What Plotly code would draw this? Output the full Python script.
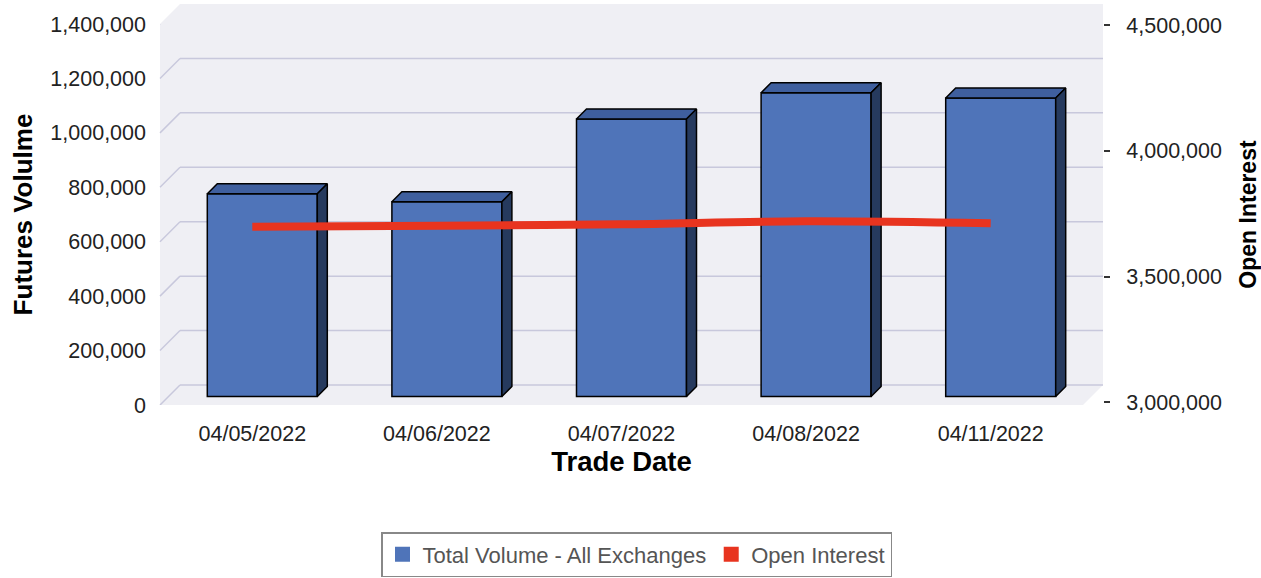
import plotly.graph_objects as go

# ---------------- data ----------------
dates = ["04/05/2022", "04/06/2022", "04/07/2022", "04/08/2022", "04/11/2022"]
volume = [745000, 716000, 1020000, 1116000, 1097000]
open_interest = [3698000, 3702000, 3708000, 3720000, 3712000]
vol_ticks = [0, 200000, 400000, 600000, 800000, 1000000, 1200000, 1400000]
oi_ticks = [3000000, 3500000, 4000000, 4500000]

# ---------------- layout geometry (pixels) ----------------
W, H = 1261, 578
ML, MR, MT, MB = 160, 158, 24, 172.5
PW = W - ML - MR
PH = H - MT - MB
FLOOR_W = 923
WALL_DEPTH = 20
BAR_DEPTH = 10
Y_MAX = 1400000
px_x = FLOOR_W / len(dates)
px_y = PH / Y_MAX
bar_dx = BAR_DEPTH / px_x
bar_dy = BAR_DEPTH / px_y
bar_shift = 10 / px_x
bar_base = 8.5 / px_y
bar_w = 110 / px_x

FONT = "Liberation Sans, Arial, sans-serif"
WALL = "#efeff4"
GRID = "#c8c8dc"
BLUE = "#4f74b9"
BLUE_TOP = "#3f5f9e"
BLUE_SIDE = "#263a5e"
RED = "#e8341f"

fig = go.Figure()

xs = [i + bar_shift for i in range(len(dates))]
fig.add_trace(go.Bar(
    x=xs, y=volume, base=bar_base, width=bar_w,
    marker=dict(color=BLUE, line=dict(color="black", width=1.5)),
    name="Total Volume - All Exchanges", showlegend=False,
    customdata=dates, hovertemplate="%{customdata}<br>%{y:,}<extra></extra>",
))

# 3D faces derived from bar data
top_x, top_y, side_x, side_y = [], [], [], []
for xc, v in zip(xs, volume):
    xl = xc - bar_w / 2
    xr = xc + bar_w / 2
    yb = bar_base
    yt = bar_base + v
    top_x += [xl, xr, xr + bar_dx, xl + bar_dx, xl, None]
    top_y += [yt, yt, yt + bar_dy, yt + bar_dy, yt, None]
    side_x += [xr, xr + bar_dx, xr + bar_dx, xr, xr, None]
    side_y += [yt, yt + bar_dy, yb + bar_dy, yb, yt, None]
fig.add_trace(go.Scatter(x=top_x, y=top_y, mode="lines", fill="toself",
                         fillcolor=BLUE_TOP, line=dict(color="black", width=1.5),
                         showlegend=False, hoverinfo="skip"))
fig.add_trace(go.Scatter(x=side_x, y=side_y, mode="lines", fill="toself",
                         fillcolor=BLUE_SIDE, line=dict(color="black", width=1.5),
                         showlegend=False, hoverinfo="skip"))

fig.add_trace(go.Scatter(
    x=list(range(len(dates))), y=open_interest, yaxis="y2", mode="lines",
    line=dict(color=RED, width=8, shape="spline"),
    name="Open Interest", showlegend=False,
    customdata=dates, hovertemplate="%{customdata}<br>%{y:,}<extra></extra>",
))

# legend entries (square swatches)
fig.add_trace(go.Scatter(x=[None], y=[None], mode="markers",
                         marker=dict(color=BLUE, symbol="square", size=15),
                         name="Total Volume - All Exchanges"))
fig.add_trace(go.Scatter(x=[None], y=[None], mode="markers",
                         marker=dict(color=RED, symbol="square", size=15),
                         name="Open Interest"))

# ---------------- wall, floor and gridlines ----------------
def xp(px):
    return (px - ML) / PW

def yp(py):
    return (MT + PH - py) / PH

bottom = MT + PH
top_back = MT - WALL_DEPTH
path = (f"M{xp(ML)},{yp(bottom)} L{xp(ML + FLOOR_W)},{yp(bottom)} "
        f"L{xp(ML + FLOOR_W + WALL_DEPTH)},{yp(bottom - WALL_DEPTH)} "
        f"L{xp(ML + FLOOR_W + WALL_DEPTH)},{yp(top_back)} "
        f"L{xp(ML + WALL_DEPTH)},{yp(top_back)} L{xp(ML)},{yp(MT)} Z")
shapes = [dict(type="path", xref="paper", yref="paper", path=path,
               fillcolor=WALL, line=dict(width=0), layer="below")]
for v in vol_ticks:
    shapes.append(dict(type="line", xref="paper", yref="y", ysizemode="pixel",
                       yanchor=v, x0=xp(ML + WALL_DEPTH), x1=1, y0=WALL_DEPTH, y1=WALL_DEPTH,
                       line=dict(color=GRID, width=1.5), layer="below"))
    shapes.append(dict(type="line", xref="paper", yref="y", ysizemode="pixel",
                       yanchor=v, x0=0, x1=xp(ML + WALL_DEPTH), y0=0, y1=WALL_DEPTH,
                       line=dict(color=GRID, width=1.5), layer="below"))

fig.update_layout(
    width=W, height=H,
    margin=dict(l=ML, r=MR, t=MT, b=MB, pad=0, autoexpand=False),
    paper_bgcolor="white", plot_bgcolor="rgba(0,0,0,0)",
    font=dict(family=FONT, color="#333333", size=21),
    shapes=shapes,
    barmode="overlay",
    xaxis=dict(
        domain=[0, FLOOR_W / PW], range=[-0.5, len(dates) - 0.5],
        tickvals=list(range(len(dates))), ticktext=dates,
        showgrid=False, zeroline=False, showline=False, ticks="", automargin=False,
        tickfont=dict(size=21.5, color="#222222"), ticklabelstandoff=13,
        title=dict(text="Trade Date", font=dict(size=27.5, color="black", weight="bold"),
                   standoff=5),
    ),
    yaxis=dict(
        range=[0, Y_MAX], tickvals=vol_ticks, tickformat=",",
        showgrid=False, zeroline=False, showline=False, ticks="", automargin=False,
        tickfont=dict(size=21.5, color="#222222"), ticklabelstandoff=13,
        title=dict(text="Futures Volulme", font=dict(size=26, color="black", weight="bold"),
                   standoff=10),
    ),
    yaxis2=dict(
        overlaying="y", side="right", anchor="free", position=1,
        range=[2990000, 4504000], tickvals=oi_ticks, tickformat=",",
        showgrid=False, zeroline=False, showline=False, automargin=False,
        ticks="outside", ticklen=6, tickwidth=1.5, tickcolor="#333333",
        tickfont=dict(size=21.5, color="#222222"), ticklabelstandoff=12,
        title=dict(text="Open Interest", font=dict(size=23, color="black", weight="bold"),
                   standoff=18),
    ),
    legend=dict(
        orientation="h", xref="container", yref="container",
        x=636.5 / W, xanchor="center", y=1 - 532 / H, yanchor="top",
        bordercolor="#888888", borderwidth=1.5, bgcolor="white",
        font=dict(size=22, color="#555555"), itemsizing="trace",
    ),
    hovermode="closest",
)

fig.write_html("out.html", config={"displayModeBar": False},
               post_script="document.body.style.margin='0';")
